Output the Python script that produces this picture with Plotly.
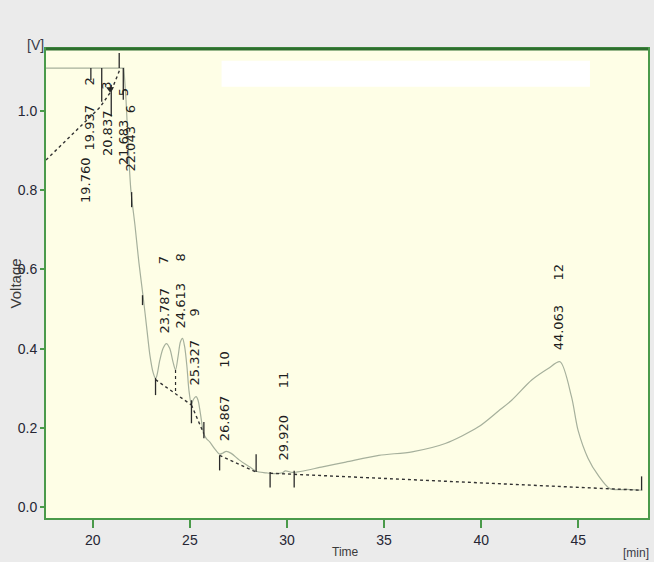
import plotly.graph_objects as go

# Detector signal: retention time (min) and voltage (V)
time_min = [17.59, 21.60, 21.71, 21.84, 21.96, 22.17, 22.37, 22.60, 22.79, 22.94,
            23.10, 23.22, 23.28, 23.45, 23.62, 23.79, 23.96, 24.13, 24.26, 24.39,
            24.51, 24.62, 24.73, 24.85, 24.95, 25.08, 25.16, 25.32, 25.42, 25.54,
            25.71, 25.85, 26.02, 26.27, 26.53, 26.70, 26.87, 27.13, 27.55, 28.07,
            28.41, 28.92, 29.26, 29.77, 29.92, 30.29, 31.83, 33.03, 34.73, 36.44,
            38.15, 39.86, 40.89, 41.57, 42.60, 43.45, 44.06, 44.65, 44.99, 45.50,
            46.02, 46.63, 47.50, 48.30]
signal_v = [1.108, 1.108, 1.028, 0.900, 0.800, 0.712, 0.619, 0.528, 0.447, 0.384,
            0.341, 0.326, 0.329, 0.371, 0.401, 0.413, 0.401, 0.367, 0.346, 0.380,
            0.417, 0.426, 0.405, 0.354, 0.295, 0.258, 0.270, 0.279, 0.270, 0.237,
            0.186, 0.173, 0.165, 0.148, 0.134, 0.137, 0.141, 0.136, 0.119, 0.102,
            0.091, 0.087, 0.085, 0.087, 0.092, 0.088, 0.102, 0.114, 0.131, 0.140,
            0.161, 0.203, 0.243, 0.270, 0.321, 0.350, 0.367, 0.279, 0.194, 0.124,
            0.081, 0.047, 0.045, 0.043]

# Integration baselines (one segment per group of peaks)
baseline_t = [[17.59, 20.37, 20.95, 21.40], [23.23, 25.08], [25.08, 25.71],
              [26.53, 28.41], [29.13, 48.26]]
baseline_v = [[0.876, 1.009, 1.050, 1.105], [0.322, 0.258], [0.258, 0.186],
              [0.131, 0.089], [0.086, 0.043]]

# Peak start/end delimiters: time, upper and lower voltage
mark_t = [19.90, 20.46, 20.95, 21.36, 21.57, 22.00, 22.56, 23.23, 25.08, 25.72,
          26.53, 28.41, 29.13, 30.37, 48.26]
mark_top = [1.108, 1.108, 1.066, 1.146, 1.108, 0.795, 0.535, 0.326, 0.270, 0.215,
            0.131, 0.134, 0.089, 0.092, 0.078]
mark_bot = [1.078, 1.023, 0.986, 1.108, 1.028, 0.757, 0.510, 0.283, 0.212, 0.174,
            0.093, 0.089, 0.050, 0.050, 0.043]

# Valley drop line between peaks 7 and 8
drop_t = [24.26, 24.26]
drop_v = [0.346, 0.286]

# Peak table: retention time and peak number
peak_rt = [19.760, 19.937, 20.837, 21.683, 22.043, 23.787, 24.613, 25.327,
           26.867, 29.920, 44.063]
peak_no = ["", "2", "3", "5", "6", "7", "8", "9", "10", "11", "12"]

# Label placement (voltage where each rotated label starts)
rt_label_v = [0.763, 0.894, 0.881, 0.859, 0.843, 0.434, 0.447, 0.303, 0.162,
              0.114, 0.391]
no_label_v = [None, 1.058, 1.048, 1.033, 0.990, 0.609, 0.616, 0.477, 0.346,
              0.295, 0.566]

x_ticks = [20, 25, 30, 35, 40, 45]
y_ticks = [0.0, 0.2, 0.4, 0.6, 0.8, 1.0]

AXIS_GREEN = "#4a9a4a"
TICK_FONT = dict(family="Liberation Sans Narrow, Arial Narrow, Liberation Sans, Arial",
                 size=14, color="#262634")
LABEL_FONT = dict(family="DejaVu Sans", size=13, color="#1e1e1e")
SIGNAL_LINE = dict(color="#a6b09c", width=1.2)

fig = go.Figure()

# saturated plateau drawn straight, the rest of the trace smoothed
fig.add_trace(go.Scatter(
    x=time_min[:3], y=signal_v[:3], mode="lines", line=SIGNAL_LINE,
    hoverinfo="skip", showlegend=False))
fig.add_trace(go.Scatter(
    x=time_min[2:], y=signal_v[2:], mode="lines",
    line=dict(**SIGNAL_LINE, shape="spline", smoothing=0.8),
    hoverinfo="skip", showlegend=False))

bx, by = [], []
for ts, vs in zip(baseline_t, baseline_v):
    bx += ts + [None]
    by += vs + [None]
fig.add_trace(go.Scatter(
    x=bx, y=by, mode="lines",
    line=dict(color="#333333", width=1.4, dash="dot"),
    hoverinfo="skip", showlegend=False))

mx, my = [], []
for t, top, bot in zip(mark_t, mark_top, mark_bot):
    mx += [t, t, None]
    my += [top, bot, None]
fig.add_trace(go.Scatter(
    x=mx, y=my, mode="lines",
    line=dict(color="#2a2a2a", width=1.3),
    hoverinfo="skip", showlegend=False))

fig.add_trace(go.Scatter(
    x=drop_t, y=drop_v, mode="lines",
    line=dict(color="#2a2a2a", width=1.2, dash="dot"),
    hoverinfo="skip", showlegend=False))

# Arrow head at the start of the saturated region
fig.add_trace(go.Scatter(
    x=[20.89], y=[1.055], mode="markers",
    marker=dict(symbol="triangle-down", size=7, color="#2a2a2a"),
    hoverinfo="skip", showlegend=False))

annotations = []
for rt, no, yv, nv in zip(peak_rt, peak_no, rt_label_v, no_label_v):
    annotations.append(dict(
        x=rt, y=yv, xref="x", yref="y", text=f"{rt:.3f}", textangle=-90,
        showarrow=False, xanchor="center", yanchor="bottom", xshift=-2,
        font=LABEL_FONT))
    if no:
        annotations.append(dict(
            x=rt, y=nv, xref="x", yref="y", text=no, textangle=-90,
            showarrow=False, xanchor="center", yanchor="bottom", xshift=-2,
            font=LABEL_FONT))

annotations += [
    dict(x=-0.0177, y=1.009, xref="paper", yref="paper", text="[V]",
         showarrow=False, xanchor="center", yanchor="middle",
         font=dict(family="Liberation Sans", size=14, color="#3a3a48")),
    dict(x=-0.0508, y=0.501, xref="paper", yref="paper", text="Voltage",
         textangle=-90, showarrow=False, xanchor="center", yanchor="middle",
         font=dict(family="Liberation Sans", size=15, color="#3a3a3a")),
    dict(x=0.497, y=-0.0925, xref="paper", yref="paper", text="Time",
         showarrow=False, xanchor="center", yanchor="bottom",
         font=dict(family="Liberation Sans", size=12, color="#3a3a3a")),
    dict(x=1.0, y=-0.055, xref="paper", yref="paper", text="[min]",
         showarrow=False, xanchor="right", yanchor="top", xshift=3,
         font=dict(family="Liberation Sans", size=12, color="#3a3a48")),
]

fig.update_layout(
    width=654, height=562, autosize=False,
    margin=dict(l=46, r=4, t=49, b=44),
    paper_bgcolor="#ebebeb", plot_bgcolor="#fefee6",
    showlegend=False,
    annotations=annotations,
    shapes=[
        dict(type="rect", xref="paper", yref="paper",
             x0=0.2916, x1=0.9036, y0=0.9195, y1=0.975,
             fillcolor="white", line=dict(width=0), layer="above"),
        dict(type="line", xref="paper", yref="paper", x0=0, x1=1, y0=1, y1=1,
             line=dict(color="#2f6e2f", width=3), layer="above"),
    ],
    xaxis=dict(range=[17.59, 48.59], tickvals=x_ticks, ticktext=[str(v) for v in x_ticks],
               showgrid=False, zeroline=False, showline=True, linecolor=AXIS_GREEN,
               linewidth=2, mirror=True, ticks="outside", ticklen=8, tickwidth=1.5,
               tickcolor=AXIS_GREEN, tickfont=TICK_FONT),
    yaxis=dict(range=[-0.027, 1.156], tickvals=y_ticks,
               ticktext=[f"{v:.1f}" for v in y_ticks],
               showgrid=False, zeroline=False, showline=True, linecolor=AXIS_GREEN,
               linewidth=2, mirror=True, ticks="outside", ticklen=4, tickwidth=1.5,
               tickcolor=AXIS_GREEN, tickfont=TICK_FONT),
)

fig.write_html("out.html")
